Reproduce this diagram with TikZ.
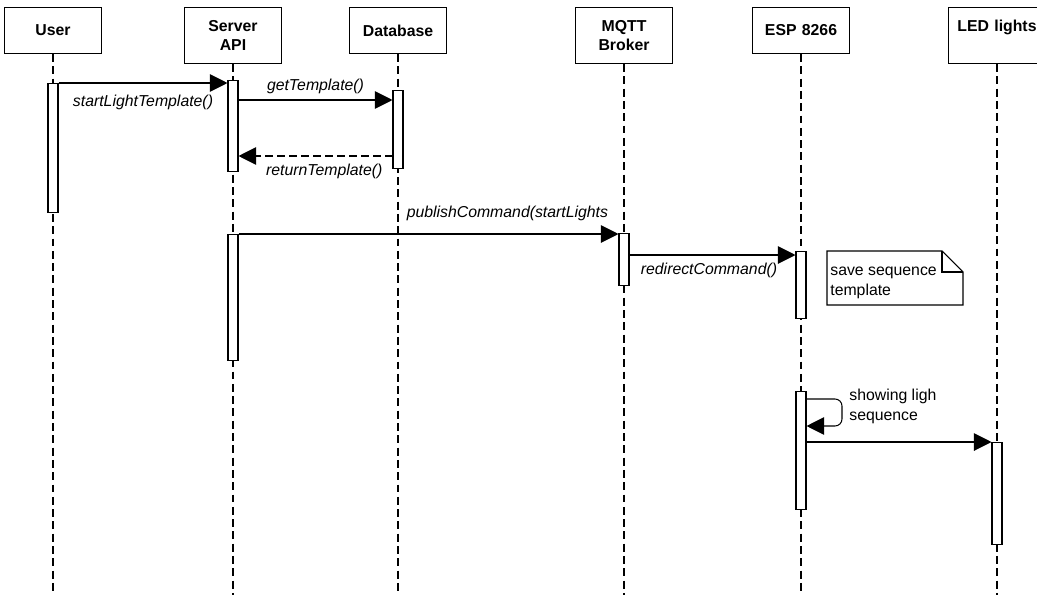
\documentclass[tikz,border=0pt]{standalone}
\usepackage{fontspec}
\setmainfont{Liberation Sans}
\usetikzlibrary{arrows.meta}

\begin{document}
\begin{tikzpicture}[x=0.02cm, y=-0.02cm, font=\fontsize{9pt}{11pt}\selectfont]
            \tikzstyle{actor} = [rectangle, draw, line width=0.6pt, text width=1.7cm, text centered, minimum width=1.88cm, anchor=north, font=\bfseries\fontsize{9pt}{11pt}\selectfont]
            \tikzstyle{bar} = [rectangle, draw, fill=white, line width=0.6pt, minimum width=0.2cm, inner sep=0pt, anchor=north]
            \tikzstyle{lifeline} = [line width=0.6pt, dash pattern=on 4.5pt off 2.5pt]
            \tikzstyle{msg} = [line width=0.6pt, -{Triangle[length=10pt,width=10pt]}]
            \tikzstyle{reply} = [msg, dash pattern=on 4.5pt off 2.3pt]
            \tikzstyle{lbl} = [font=\itshape\fontsize{9pt}{11pt}\selectfont]
            \useasboundingbox (0,0) rectangle (1037,595);

            % participants
            \node (user) [actor, minimum height=0.92cm] at (53,7) {User};
            \node (server) [actor, minimum height=1.12cm] at (233,7) {Server\\API};
            \node (database) [actor, minimum height=0.92cm] at (398,7) {Database};
            \node (broker) [actor, minimum height=1.12cm] at (624,7) {MQTT\\Broker};
            \node (esp) [actor, minimum height=0.92cm] at (801,7) {ESP 8266};
            \node (led) [actor, minimum height=1.12cm] at (997,7) {LED lights\\~};

            \foreach \p in {user, server, database, broker, esp, led}
                \draw [lifeline] (\p.south) -- (\p.south |- 0,595);

            % activations
            \node (ubar) [bar, minimum height=2.58cm] at (53,83) {};
            \node (sbar1) [bar, minimum height=1.82cm] at (233,80) {};
            \node (dbar) [bar, minimum height=1.56cm] at (398,90) {};
            \node (sbar2) [bar, minimum height=2.52cm] at (233,234) {};
            \node (mbar) [bar, minimum height=1.04cm] at (624,233) {};
            \node (ebar1) [bar, minimum height=1.34cm] at (801,251) {};
            \node (ebar2) [bar, minimum height=2.36cm] at (801,391) {};
            \node (lbar) [bar, minimum height=2.04cm] at (997,442) {};

            % messages
            \draw [msg] (ubar.north east) -- (ubar.north east -| sbar1.west)
                node [lbl, midway, yshift=-11pt] {startLightTemplate()};
            \draw [msg] (sbar1.east |- 0,100) -- (dbar.west |- 0,100)
                node [lbl, midway, yshift=8pt] {getTemplate()};
            \draw [reply] (dbar.west |- 0,156) -- (sbar1.east |- 0,156)
                node [lbl, midway, xshift=5pt, yshift=-9pt] {returnTemplate()};
            \draw [msg] (sbar2.north east) -- (sbar2.north east -| mbar.west)
                node [lbl, pos=0.426, anchor=west, yshift=12pt] {publishCommand(startLights};
            \draw [msg] (mbar.east |- 0,255) -- (ebar1.west |- 0,255)
                node [lbl, midway, xshift=-2pt, yshift=-8.5pt] {redirectCommand()};
            \draw [msg, rounded corners=4pt] (ebar2.east |- 0,399) -- (842,399) -- (842,426) -- (ebar2.east |- 0,426);
            \node (looplbl) [anchor=north west, inner sep=0pt, align=left] at (849,389) {showing ligh\\sequence};
            \draw [msg] (ebar2.east |- lbar.north) -- (lbar.north west);

            % note
            \draw [line width=0.6pt] (827,251) -- (942,251) -- (963,272) -- (963,305) -- (827,305) -- cycle;
            \draw [line width=0.6pt] (942,251) -- (942,272) -- (963,272);
            \node (note) [anchor=north west, inner sep=0pt, align=left] at (830,267) {save sequence\\template};
\end{tikzpicture}
\end{document}
